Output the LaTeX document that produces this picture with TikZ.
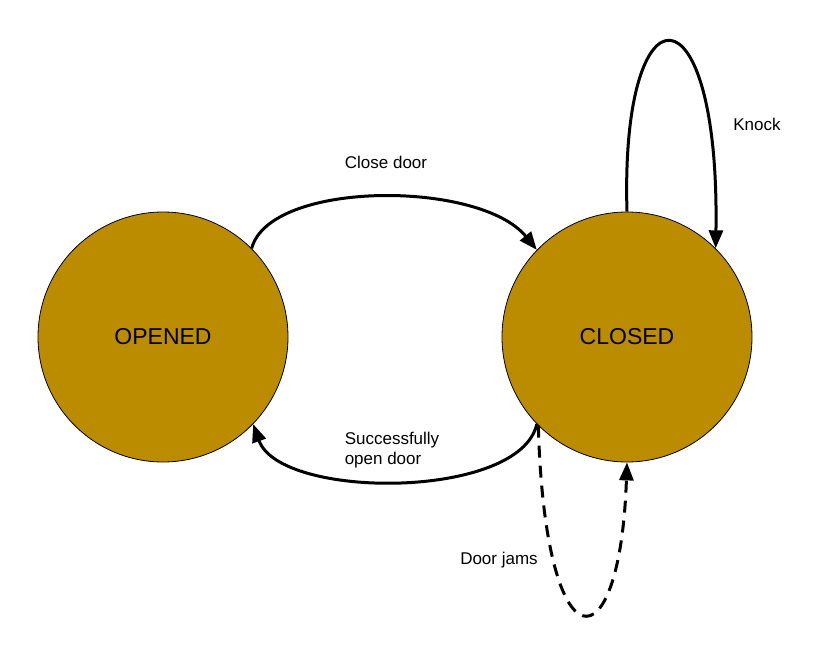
\documentclass[tikz,border=0pt]{standalone}
\usepackage{fontspec}
\setmainfont{Liberation Sans}
\usetikzlibrary{arrows.meta}
\definecolor{gold}{RGB}{187,140,0}
\begin{document}
\begin{tikzpicture}[x=1pt,y=-1pt,
  st/.style={circle,draw=black,line width=0.8pt,fill=gold,minimum size=250pt,inner sep=0pt,font=\fontsize{23}{27}\selectfont},
  arr/.style={line width=3pt,-{Triangle[length=18pt,width=14pt]}},
  lbl/.style={font=\fontsize{17}{20}\selectfont,align=left}]
\useasboundingbox[fill=white] (0,0) rectangle (820,656);
\node[st] (O) at (163,337) {OPENED};
\node[st] (C) at (627,337) {CLOSED};
\draw[arr] (O.45) .. controls (270,180) and (480,180) .. (C.136);
\draw[arr] (C.224) .. controls (520,500) and (280,500) .. (O.316);
\draw[arr] (C.90) .. controls (620,-20) and (720,-20) .. (C.45);
\draw[arr,dash pattern=on 12pt off 8pt] (C.225) .. controls (545,670) and (620,670) .. (C.270);
\node[lbl] (l1) at (386,162) {Close door};
\node[lbl] (l2) at (392,450) {Successfully\\open door};
\node[lbl] (l3) at (757,124) {Knock};
\node[lbl] (l4) at (499,560) {Door jams};
\end{tikzpicture}
\end{document}
